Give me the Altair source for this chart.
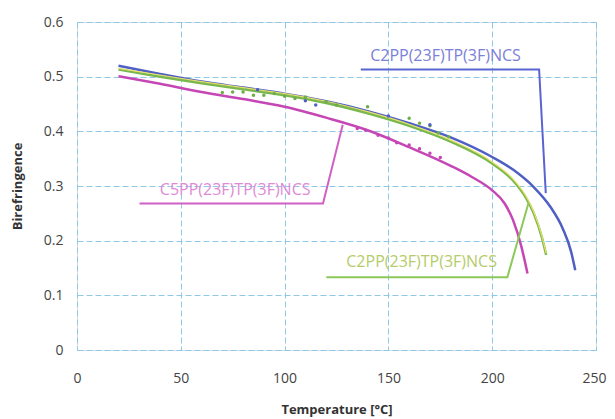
import altair as alt
import pandas as pd

# Fitted curves
blue_T = [20, 40, 60, 80, 100, 120, 140, 160, 180, 200, 210, 220, 228, 234, 238, 240]
blue_n = [0.520, 0.505, 0.491, 0.480, 0.469, 0.455, 0.437, 0.415, 0.389, 0.353, 0.330, 0.298, 0.262, 0.222, 0.180, 0.146]

green_T = [20, 40, 60, 80, 100, 120, 140, 160, 180, 200, 210, 216, 220, 224, 226]
green_n = [0.513, 0.500, 0.488, 0.477, 0.466, 0.452, 0.433, 0.410, 0.381, 0.341, 0.310, 0.280, 0.250, 0.205, 0.174]

yellow_T = [20, 40, 60, 80, 100, 120, 140, 160, 180, 200, 210, 216, 220, 224, 226]
yellow_n = [0.515, 0.503, 0.491, 0.480, 0.469, 0.455, 0.436, 0.413, 0.384, 0.344, 0.313, 0.283, 0.253, 0.208, 0.177]

magenta_T = [20, 40, 60, 80, 100, 120, 140, 160, 180, 190, 200, 206, 210, 214, 217]
magenta_n = [0.501, 0.487, 0.472, 0.459, 0.445, 0.425, 0.402, 0.371, 0.337, 0.317, 0.292, 0.268, 0.238, 0.190, 0.140]

# Measured points
green_pT = [70, 75, 80, 85, 90, 95, 100, 105, 110, 120, 125, 140, 160, 165, 170, 174, 179]
green_pn = [0.471, 0.472, 0.472, 0.466, 0.466, 0.469, 0.464, 0.460, 0.463, 0.454, 0.448, 0.445, 0.424, 0.415, 0.410, 0.397, 0.390]
blue_pT = [87, 110, 115, 150, 170]
blue_pn = [0.476, 0.456, 0.448, 0.428, 0.412]
magenta_pT = [135, 139, 145, 150, 154, 160, 165, 170, 175]
magenta_pn = [0.405, 0.402, 0.393, 0.388, 0.379, 0.375, 0.368, 0.360, 0.352]

# Labels and leader lines
label_text = ["C2PP(23F)TP(3F)NCS", "C5PP(23F)TP(3F)NCS", "C2PP(23F)TP(3F)NCS"]
label_T = [177.5, 76.2, 166.0]
label_n = [0.537, 0.2927, 0.1615]
label_color = ["#7b80d8", "#e08ad6", "#b5cc6a"]

blue_lead_T = [136.7, 222.6, 225.8]
blue_lead_n = [0.513, 0.513, 0.287]
mag_lead_T = [30.1, 118.5, 128.0]
mag_lead_n = [0.268, 0.268, 0.412]
green_lead_T = [120.1, 207.3, 217.4]
green_lead_n = [0.133, 0.133, 0.268]

x_scale = alt.Scale(domain=[0, 250], nice=False)
y_scale = alt.Scale(domain=[0, 0.6], nice=False)

FONT = "Open Sans"

x_axis = alt.Axis(values=[0, 50, 100, 150, 200, 250], title="Temperature [°C]",
                  grid=True, gridDash=[6, 3], gridColor="#8ec8e4", gridWidth=1,
                  domain=False, ticks=False, labelPadding=21, labelFontSize=14,
                  labelFlush=False, labelOverlap=False,
                  labelAlign=alt.ExprRef(expr="datum.value == 250 ? 'right' : 'center'"),
                  labelOffset=alt.ExprRef(expr="datum.value == 250 ? 10 : 0"),
                  labelColor="#444444", labelFont=FONT, titleFont=FONT,
                  titleFontSize=13, titleFontWeight="bold", titleColor="#333333",
                  titleY=59, titleBaseline="middle")
y_axis = alt.Axis(values=[0, 0.1, 0.2, 0.3, 0.4, 0.5, 0.6], title="Birefringence",
                  grid=True, gridDash=[6, 3], gridColor="#8ec8e4", gridWidth=1,
                  domain=False, ticks=False, labelPadding=14, labelFontSize=14,
                  labelFlush=False, labelOverlap=False,
                  labelColor="#444444", labelFont=FONT, titleFont=FONT,
                  titleFontSize=13, titleFontWeight="bold", titleColor="#333333",
                  titleX=-60, titleY=164, titleBaseline="middle",
                  labelExpr="datum.value == 0 ? '0' : format(datum.value, '.1f')")


def curve(T, n, color, width=2.5):
    df = pd.DataFrame({"T": T, "n": n})
    return alt.Chart(df).mark_line(color=color, strokeWidth=width, interpolate="monotone").encode(
        x=alt.X("T:Q", scale=x_scale, axis=x_axis),
        y=alt.Y("n:Q", scale=y_scale, axis=y_axis),
    )


def pts(T, n, color):
    df = pd.DataFrame({"T": T, "n": n})
    return alt.Chart(df).mark_point(color=color, filled=True, size=12, opacity=1).encode(
        x=alt.X("T:Q", scale=x_scale), y=alt.Y("n:Q", scale=y_scale))


def leader(T, n, color):
    df = pd.DataFrame({"T": T, "n": n, "o": list(range(len(T)))})
    return alt.Chart(df).mark_line(color=color, strokeWidth=2).encode(
        x=alt.X("T:Q", scale=x_scale), y=alt.Y("n:Q", scale=y_scale), order="o:Q")


labels_df = pd.DataFrame({"text": label_text, "T": label_T, "n": label_n, "c": label_color})
labels = alt.Chart(labels_df).mark_text(font=FONT, fontSize=16, align="center", baseline="middle").encode(
    x=alt.X("T:Q", scale=x_scale), y=alt.Y("n:Q", scale=y_scale), text="text:N",
    color=alt.Color("c:N", scale=None))

chart = alt.layer(
    curve(blue_T, blue_n, "#4f5fc4"),
    curve(green_T, green_n, "#78b84c"),
    curve(yellow_T, yellow_n, "#e6df6a", 1.2),
    curve(magenta_T, magenta_n, "#c546b4"),
    pts(green_pT, green_pn, "#6aae44"),
    pts(blue_pT, blue_pn, "#4f5fc4"),
    pts(magenta_pT, magenta_pn, "#c546b4"),
    leader(blue_lead_T, blue_lead_n, "#5a64d0"),
    leader(mag_lead_T, mag_lead_n, "#d060c4"),
    leader(green_lead_T, green_lead_n, "#8cc85a"),
    labels,
).properties(
    width=519, height=328,
    autosize=alt.AutoSizeParams(type="none"),
    padding={"left": 69, "top": 14, "right": 11, "bottom": 68},
).configure_view(
    stroke="#a8d0e6", strokeWidth=1.5, fill="#fcfcff"
).configure(background="white")

chart.save("out.html", embed_options={"renderer": "svg", "actions": False})
